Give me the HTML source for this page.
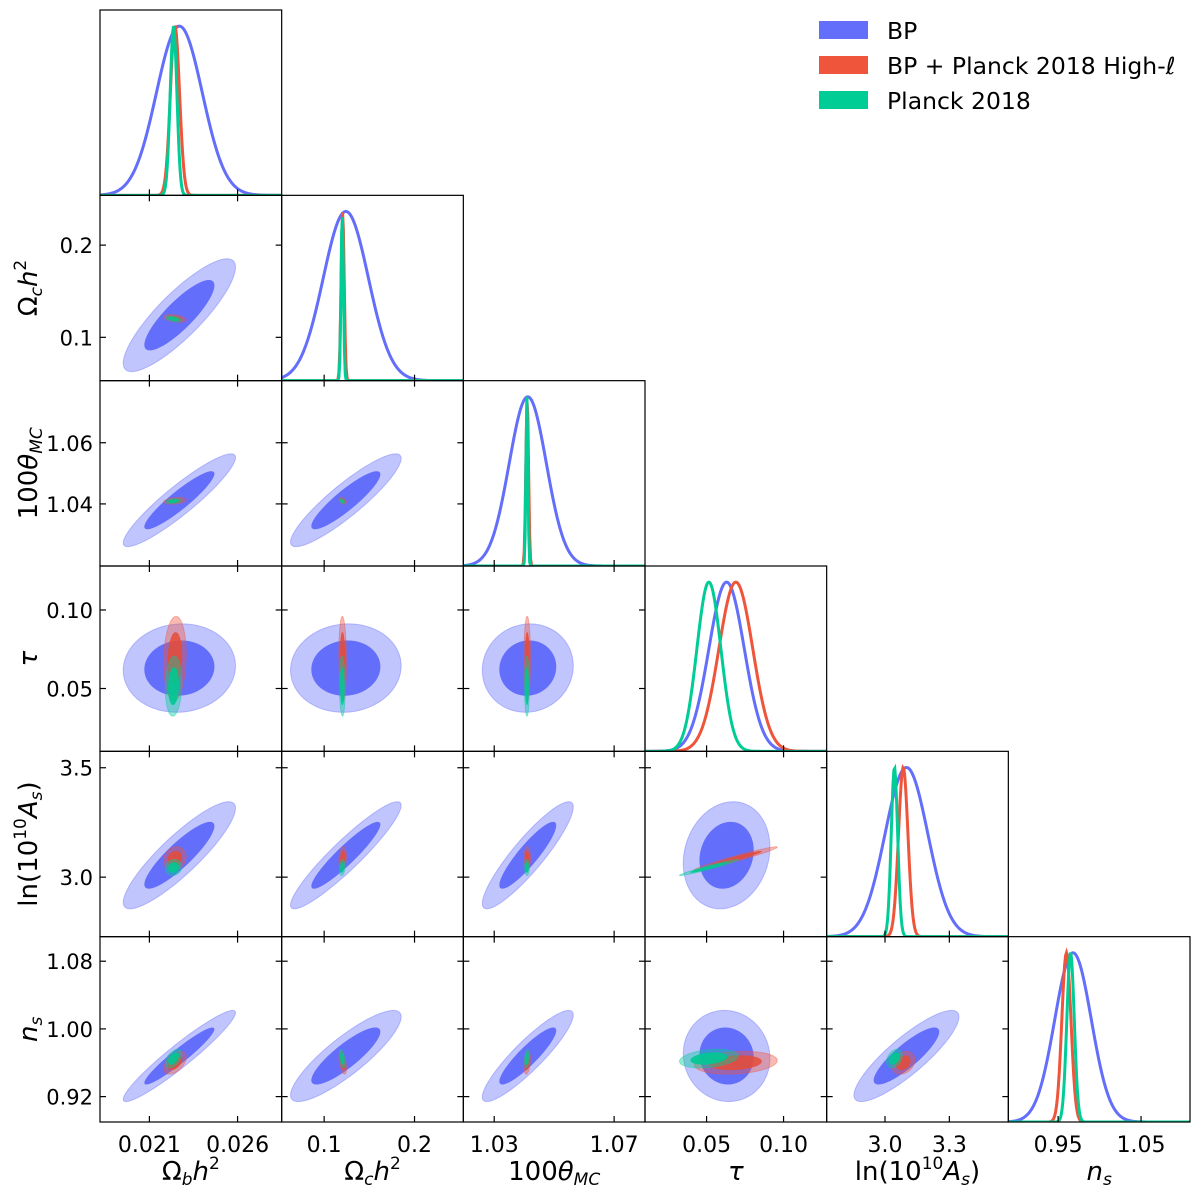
<!DOCTYPE html>
<html><head><meta charset="utf-8">
<style>
html,body{margin:0;padding:0;background:#fff;}
svg{display:block;font-family:"DejaVu Sans","Liberation Sans",sans-serif;}
</style></head>
<body>
<svg id="chart" xmlns="http://www.w3.org/2000/svg" width="1200" height="1200" viewBox="0 0 1200 1200">
<rect x="0" y="0" width="1200" height="1200" fill="#fff"/>
<g id="panels"></g>
<g id="legend">
  <g>
    <rect x="819" y="21" width="49" height="18" fill="#636efa"/>
    <text x="887" y="39" font-size="23.5">BP</text>
  </g>
  <g>
    <rect x="819" y="56" width="49" height="18" fill="#ef553b"/>
    <text x="887" y="74" font-size="23.5">BP + Planck 2018 High-<tspan font-style="italic">ℓ</tspan></text>
  </g>
  <g>
    <rect x="819" y="91" width="49" height="18" fill="#00cc96"/>
    <text x="887" y="109" font-size="23.5">Planck 2018</text>
  </g>
</g>
</svg>
<script>
// ---- data ----
const paramKeys = ['omegabh2','omegach2','theta','tau','logA','ns'];
const rangeMin = [0.0182, 0.053, 1.0197, 0.010, 2.728, 0.890];
const rangeMax = [0.0285, 0.254, 1.0803, 0.128, 3.575, 1.109];
const xTicks = [[0.021,0.026],[0.1,0.2],[1.03,1.07],[0.05,0.10],[3.0,3.3],[0.95,1.05]];
const xTickLabels = [['0.021','0.026'],['0.1','0.2'],['1.03','1.07'],['0.05','0.10'],['3.0','3.3'],['0.95','1.05']];
const yTicks = [[],[0.1,0.2],[1.04,1.06],[0.05,0.10],[3.0,3.5],[0.92,1.00,1.08]];
const yTickLabels = [[],['0.1','0.2'],['1.04','1.06'],['0.05','0.10'],['3.0','3.5'],['0.92','1.00','1.08']];

const meanBP = [0.0227, 0.124, 1.0412, 0.063, 3.10, 0.968];
const sigBP = [0.00130, 0.025, 0.0062, 0.0115, 0.10, 0.022];
const corrBP = [
 [1, .85, .92, .05, .88, .95],
 [.85, 1, .90, .05, .93, .86],
 [.92, .90, 1, .05, .90, .90],
 [.05, .05, .05, 1, .15, -.05],
 [.88, .93, .90, .15, 1, .86],
 [.95, .86, .90, -.05, .86, 1]];

const meanBPP = [0.02245, 0.1205, 1.0410, 0.069, 3.085, 0.960];
const sigBPP = [0.00026, 0.0017, 0.00045, 0.011, 0.022, 0.0055];
const corrBPP = [
 [1, -.4, .3, .1, .15, .5],
 [-.4, 1, -.4, -.1, .2, -.5],
 [.3, -.4, 1, 0, 0, .3],
 [.1, -.1, 0, 1, .97, .2],
 [.15, .2, 0, .97, 1, .25],
 [.5, -.5, .3, .2, .25, 1]];

const meanPL = [0.02237, 0.1200, 1.04092, 0.0515, 3.044, 0.965];
const sigPL = [0.00019, 0.0013, 0.00033, 0.0078, 0.015, 0.0045];
const corrPL = [
 [1, -.5, .3, .1, .1, .5],
 [-.5, 1, -.5, -.1, .2, -.5],
 [.3, -.5, 1, 0, 0, .3],
 [.1, -.1, 0, 1, .97, .3],
 [.1, .2, 0, .97, 1, .35],
 [.5, -.5, .3, .3, .35, 1]];

// ---- layout ----
const L = 100, T = 10, W = 1090/6, H = 1112/6, N = 6;
const NS = 'http://www.w3.org/2000/svg';
const root = document.getElementById('panels');
function mk(tag, attrs, parent){
  const e = document.createElementNS(NS, tag);
  for (const k in attrs) e.setAttribute(k, attrs[k]);
  (parent||root).appendChild(e);
  return e;
}
function xScale(p, c, v){ return L + c*W + (v - rangeMin[p])/(rangeMax[p]-rangeMin[p])*W; }
function yScale(p, r, v){ return T + (r+1)*H - (v - rangeMin[p])/(rangeMax[p]-rangeMin[p])*H; }

const datasets = [
  {m: meanBP, s: sigBP, c: corrBP, line:'#636efa', outer:'rgba(99,110,250,0.4)', inner:'#636efa', name:'bp'},
  {m: meanBPP, s: sigBPP, c: corrBPP, line:'#ef553b', outer:'rgba(239,85,59,0.4)', inner:'rgba(230,75,55,0.85)', name:'bp-planck'},
  {m: meanPL, s: sigPL, c: corrPL, line:'#00cc96', outer:'rgba(0,204,150,0.4)', inner:'rgba(0,200,148,0.9)', name:'planck'}
];

function ellipsePath(px, py, c, r, d, k){
  const mx = xScale(px, c, d.m[px]), my = yScale(py, r, d.m[py]);
  const sx = d.s[px]/(rangeMax[px]-rangeMin[px])*W;
  const sy = d.s[py]/(rangeMax[py]-rangeMin[py])*H;
  const rho = d.c[py][px];
  const q = Math.sqrt(Math.max(0, 1-rho*rho));
  let p = '';
  for (let i=0;i<=80;i++){
    const t = i/80*2*Math.PI;
    const x = mx + k*sx*Math.cos(t);
    const y = my - k*sy*(rho*Math.cos(t) + q*Math.sin(t));
    p += (i?'L':'M') + x.toFixed(2) + ',' + y.toFixed(2);
  }
  return p + 'Z';
}

for (let r=0;r<N;r++){
  for (let c=0;c<=r;c++){
    const x0 = L + c*W, y0 = T + r*H;
    const g = mk('g', {});
    
    
    const clipId = 'clip'+r+'_'+c;
    const cp = mk('clipPath', {id: clipId}, g);
    mk('rect', {x:x0, y:y0, width:W, height:H}, cp);
    const content = mk('g', {'clip-path':'url(#'+clipId+')'}, g);
    if (r === c){
      const p = c;
      datasets.forEach(d => {
        let path = '';
        for (let i=0;i<=200;i++){
          const v = rangeMin[p] + (rangeMax[p]-rangeMin[p])*i/200;
          const z = (v - d.m[p])/d.s[p];
          const y = y0 + H - 0.913*H*Math.exp(-0.5*z*z);
          path += (i?'L':'M') + xScale(p, c, v).toFixed(2) + ',' + y.toFixed(2);
        }
        const pl = mk('path', {d:path, fill:'none', stroke:d.line, 'stroke-width':3}, content);
        
        
      });
    } else {
      datasets.forEach(d => {
        const o = mk('path', {d:ellipsePath(c, r, c, r, d, 2.448), fill:d.outer, stroke:d.outer, 'stroke-width':1}, content);
        
        
        const inn = mk('path', {d:ellipsePath(c, r, c, r, d, 1.515), fill:d.inner, stroke:d.inner, 'stroke-width':0.6}, content);
        
        
      });
    }
    mk('rect', {x:x0, y:y0, width:W, height:H, fill:'none', stroke:'#000', 'stroke-width':1.2}, g);
    xTicks[c].forEach((v,i) => {
      const xx = xScale(c, c, v);
      mk('line', {x1:xx, x2:xx, y1:y0+H, y2:y0+H-6, stroke:'#000', 'stroke-width':1.2}, g);
      if (r !== c) mk('line', {x1:xx, x2:xx, y1:y0, y2:y0+6, stroke:'#000', 'stroke-width':1.2}, g);
      if (r === N-1){
        const t = mk('text', {x:xx, y:y0+H+30, 'font-size':22, 'text-anchor':'middle'}, g);
        
        
        t.textContent = xTickLabels[c][i];
      }
    });
    if (r !== c){
      yTicks[r].forEach((v,i) => {
        const yy = yScale(r, r, v);
        mk('line', {x1:x0, x2:x0+6, y1:yy, y2:yy, stroke:'#000', 'stroke-width':1.2}, g);
        mk('line', {x1:x0+W, x2:x0+W-6, y1:yy, y2:yy, stroke:'#000', 'stroke-width':1.2}, g);
        if (c === 0){
          const t = mk('text', {x:x0-7, y:yy+8, 'font-size':21, 'text-anchor':'end'}, g);
          
          
          t.textContent = yTickLabels[r][i];
        }
      });
    }
  }
}

const xLabelHTML = [
 'Ω<tspan font-size="17" dy="5" font-style="italic">b</tspan><tspan dy="-5" font-style="italic">h</tspan><tspan font-size="17" dy="-11">2</tspan>',
 'Ω<tspan font-size="17" dy="5" font-style="italic">c</tspan><tspan dy="-5" font-style="italic">h</tspan><tspan font-size="17" dy="-11">2</tspan>',
 '100<tspan font-style="italic">θ</tspan><tspan font-size="17" dy="5" font-style="italic">MC</tspan>',
 '<tspan font-style="italic">τ</tspan>',
 'ln(10<tspan font-size="17" dy="-11">10</tspan><tspan dy="11" font-style="italic">A</tspan><tspan font-size="17" dy="5" font-style="italic">s</tspan><tspan dy="-5">)</tspan>',
 '<tspan font-style="italic">n</tspan><tspan font-size="17" dy="5" font-style="italic">s</tspan>'
];
for (let c=0;c<N;c++){
  const t = mk('text', {x: L + c*W + W/2, y: 1180, 'font-size':26, 'text-anchor':'middle'});
  
  
  t.innerHTML = xLabelHTML[c];
}
for (let r=1;r<N;r++){
  const cy = T + r*H + H/2;
  const t = mk('text', {x:0, y:0, 'font-size':26, 'text-anchor':'middle', transform:'translate(37,'+cy.toFixed(1)+') rotate(-90)'});
  
  
  t.innerHTML = xLabelHTML[r];
}
</script>
</body></html>
